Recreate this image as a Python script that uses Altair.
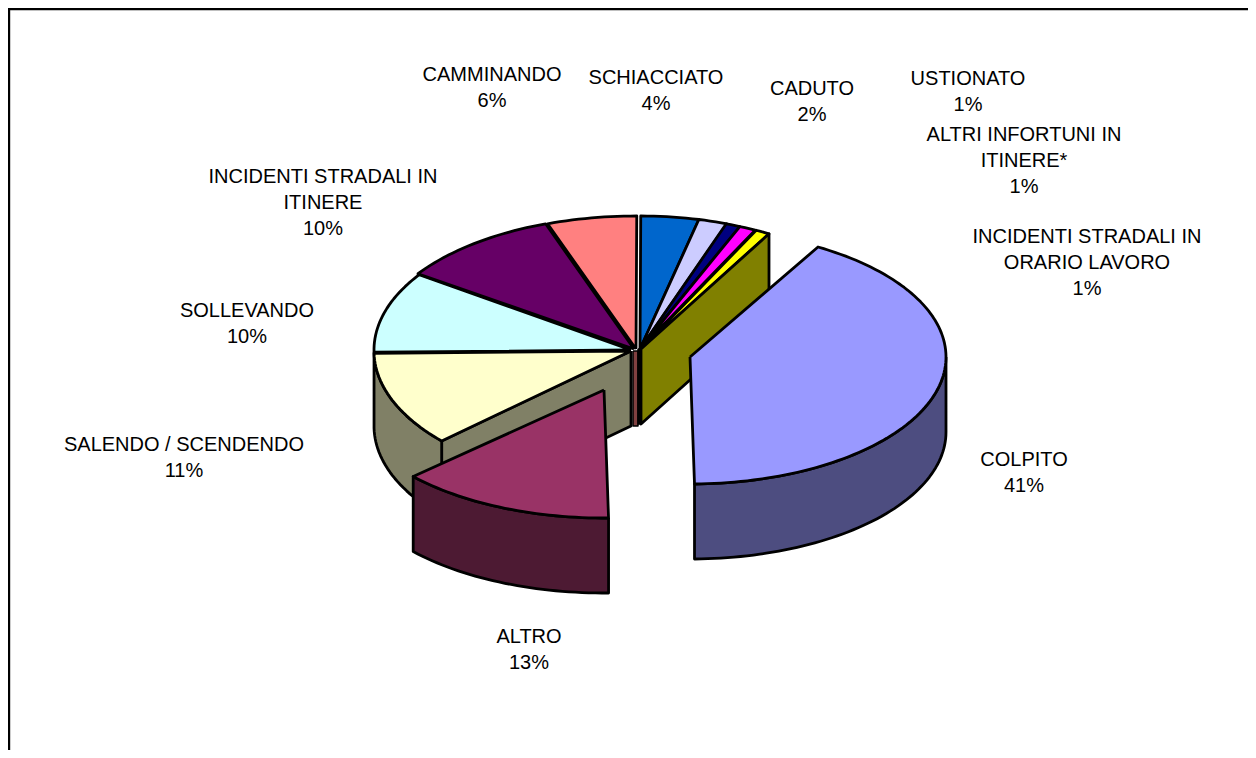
import math
import altair as alt
import pandas as pd

# ---- values (percent of the total, clockwise from COLPITO)
categories = ["COLPITO", "ALTRO", "SALENDO / SCENDENDO", "SOLLEVANDO", "INCIDENTI STRADALI IN ITINERE",
              "CAMMINANDO", "SCHIACCIATO", "CADUTO", "USTIONATO", "ALTRI INFORTUNI IN ITINERE*",
              "INCIDENTI STRADALI IN ORARIO LAVORO"]
shares = [41.2, 13.4, 11.5, 9.8, 9.9, 5.5, 3.6, 1.8, 0.9, 1.05, 0.9]
top_colors = ["#9999FF", "#993366", "#FFFFCC", "#CCFFFF", "#660066", "#FF8080",
              "#0066CC", "#CCCCFF", "#000080", "#FF00FF", "#FFFF00"]
side_colors = ["#4D4D80", "#4D1A33", "#808066", "#668080", "#330033", "#804040",
               "#003366", "#666680", "#000040", "#800080", "#808000"]
label_lines = [["COLPITO", "41%"], ["ALTRO", "13%"], ["SALENDO / SCENDENDO", "11%"], ["SOLLEVANDO", "10%"],
               ["INCIDENTI STRADALI IN", "ITINERE", "10%"], ["CAMMINANDO", "6%"], ["SCHIACCIATO", "4%"],
               ["CADUTO", "2%"], ["USTIONATO", "1%"], ["ALTRI INFORTUNI IN", "ITINERE*", "1%"],
               ["INCIDENTI STRADALI IN", "ORARIO LAVORO", "1%"]]

# ---- layout constants, in page pixels (the page margin is 8)
M = 8
W, H = 1240, 742
START = 30.0      # clockwise from north, degrees
THICK = 75
centers = {0: (690, 357, 256, 127), 1: (604, 390, 259, 128), 2: (631, 351, 257, 133), 3: (631, 350, 257, 133),
           4: (634, 349, 262, 133), 5: (636, 349, 262, 133), 6: (640, 349, 258, 133), 7: (640, 349, 258, 133),
           8: (640, 349, 256, 133), 9: (640, 349, 256, 133), 10: (641, 349, 256, 133)}
label_pos = {0: (1024, 460), 1: (529, 637), 2: (184, 445), 3: (247, 311), 4: (323, 177), 5: (492, 75),
             6: (656, 78), 7: (812, 89), 8: (968, 79), 9: (1024, 135), 10: (1087, 237)}
FONT = "Liberation Sans"
FS = 20
LINE = 26

# ---- cumulative angles from the shares
total = sum(shares)
angles, a = [], START
for s in shares:
    b = a + s / total * 360
    angles.append((a, b))
    a = b


def pt(i, deg, dz=0):
    cx, cy, rx, ry = centers[i]
    r = math.radians(deg)
    return cx + rx * math.sin(r), cy - ry * math.cos(r) + dz


def arc(i, a0, a1, dz=0):
    n = max(2, int(abs(a1 - a0) / 1.5) + 1)
    return [pt(i, a0 + (a1 - a0) * k / n, dz) for k in range(n + 1)]


def top_poly(i):
    cx, cy, _, _ = centers[i]
    return [(cx, cy)] + arc(i, *angles[i]) + [(cx, cy)]


def outer_wall(i, a0, a1):
    p = arc(i, a0, a1)
    return p + arc(i, a1, a0, THICK) + [p[0]]


def cut_wall(i, deg):
    cx, cy, _, _ = centers[i]
    x, y = pt(i, deg)
    return [(cx, cy), (x, y), (x, y + THICK), (cx, cy + THICK), (cx, cy)]


def strip(x0, x1, y0, y1):
    return [(x0, y0), (x1, y0), (x1, y1), (x0, y1), (x0, y0)]


x_scale = alt.Scale(domain=[M, M + W], nice=False, zero=False)
y_scale = alt.Scale(domain=[M + H, M], nice=False, zero=False)
X = alt.X("x:Q", scale=x_scale, axis=None)
Y = alt.Y("y:Q", scale=y_scale, axis=None)


def shape(points, fill, sw=2.8):
    df = pd.DataFrame(points, columns=["x", "y"])
    df["o"] = range(len(df))
    return alt.Chart(df).mark_line(fill=fill, stroke="black", strokeWidth=sw, strokeJoin="round",
                                   clip=False).encode(x=X, y=Y, order="o:Q")


layers = []
# border: only the left and top edges show, both run off the picture
frame = pd.DataFrame({"x": [9, 9, M + W], "y": [M + H, 9, 9], "o": [0, 1, 2]})
layers.append(alt.Chart(frame).mark_line(stroke="black", strokeWidth=2.4).encode(x=X, y=Y, order="o:Q"))

# back slices first
for i in range(3, 11):
    layers.append(shape(top_poly(i), top_colors[i]))
# walls of the main body
layers.append(shape(cut_wall(10, angles[0][0]), side_colors[10]))
layers.append(shape(strip(633, 638, 351, 426), side_colors[5], 1.5))
layers.append(shape(strip(638, 641, 349, 424), "black", 1.5))
layers.append(shape(cut_wall(2, angles[2][0]), side_colors[2]))
layers.append(shape(outer_wall(2, angles[2][0], angles[2][1]), side_colors[2]))
layers.append(shape(top_poly(2), top_colors[2]))
# ALTRO
layers.append(shape(outer_wall(1, *angles[1]), side_colors[1]))
layers.append(shape(top_poly(1), top_colors[1]))
# COLPITO
layers.append(shape(outer_wall(0, 90, angles[0][1]), side_colors[0]))
layers.append(shape(top_poly(0), top_colors[0]))

# labels
rows = []
for i, lines in enumerate(label_lines):
    lx, ly = label_pos[i]
    for k, t in enumerate(lines):
        rows.append({"x": lx, "y": ly + LINE * k, "t": t})
labels = alt.Chart(pd.DataFrame(rows)).mark_text(font=FONT, fontSize=FS, color="black", align="center",
                                                 baseline="middle").encode(x=X, y=Y, text="t:N")
layers.append(labels)

chart = alt.layer(*layers).properties(width=W, height=H, padding=0, background="white",
                                      autosize=alt.AutoSizeParams(type="none")).configure_view(stroke=None)
chart.save("out.html", embed_options={"renderer": "svg", "actions": False})
